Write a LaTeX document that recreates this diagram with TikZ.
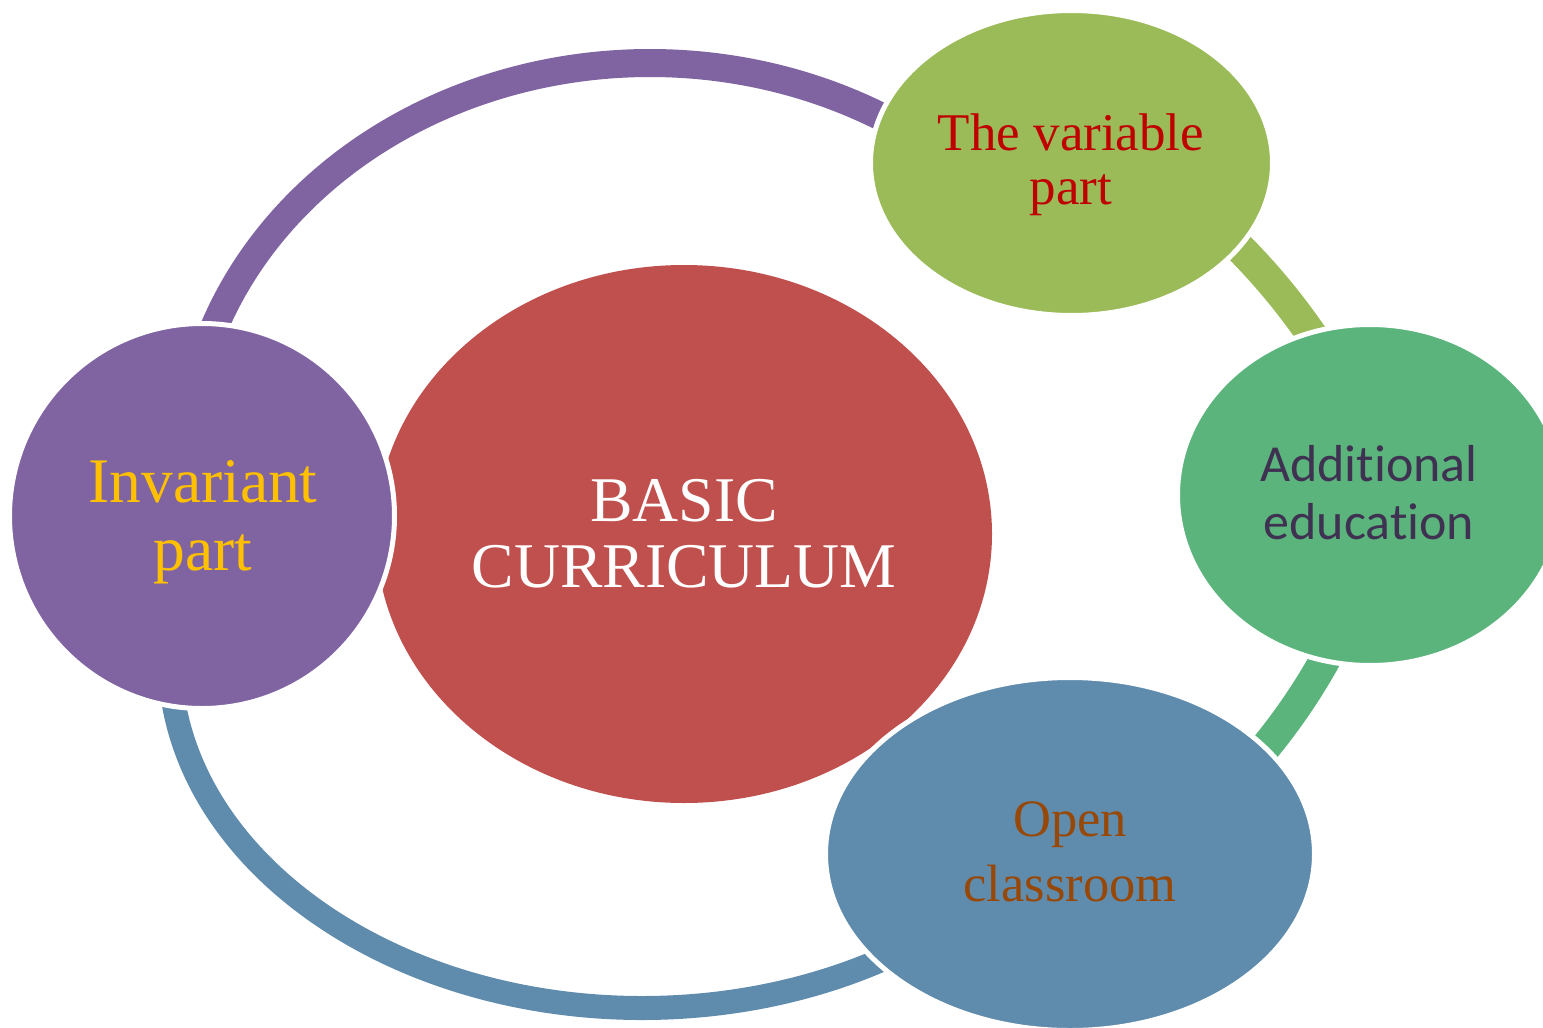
\documentclass[tikz,border=0pt]{standalone}
\usepackage{fontspec}
\setmainfont{Liberation Serif}
\newfontfamily\calibrifont[Ligatures=NoCommon,Contextuals=NoAlternate]{Carlito}
\usetikzlibrary{shapes.geometric}
\definecolor{cred}{HTML}{C0504D}
\definecolor{cpurple}{HTML}{8064A2}
\definecolor{cgreen}{HTML}{9BBB59}
\definecolor{caddgreen}{HTML}{5CB47D}
\definecolor{cblue}{HTML}{5F8CAD}
\definecolor{tvar}{HTML}{C00000}
\definecolor{tinv}{HTML}{FFC000}
\definecolor{topen}{HTML}{984806}
\definecolor{tadd}{HTML}{3F3151}
\begin{document}
\begin{tikzpicture}[x=1pt,y=-1pt,
  sat/.style={ellipse, draw=white, line width=5pt, inner sep=0pt, outer sep=0pt},
  band/.style={line width=#1, line cap=butt, line join=round},
  lbl/.style={align=center, inner sep=0pt, outer sep=0pt}]
\useasboundingbox (0,0) rectangle (1543,1028);
\clip (0,0) rectangle (1543,1028);
% central ellipse
\node[ellipse, fill=cred, inner sep=0pt, minimum width=616pt, minimum height=538pt] (core) at (684,534) {};
% arc centres and end points
\coordinate (pc) at (650,469);
\coordinate (bc) at (642.4,657.7);
\coordinate (ga) at (1219,228);
\coordinate (gb) at (1327,358);
\coordinate (ha) at (1337,637);
\coordinate (hb) at (1247,769);
% arcs
\draw[band=28pt, cpurple] (pc) ++(197:465 and 406) arc[start angle=197, end angle=304, x radius=465, y radius=406];
\draw[band=24pt, cblue] (bc) ++(177:472.7 and 350.3) arc[start angle=177, end angle=57, x radius=472.7, y radius=350.3];
\draw[band=31pt, cgreen] (ga) .. controls (1260.3,266) and (1296.3,309.3) .. (gb);
\draw[band=31pt, caddgreen] (ha) .. controls (1313.7,683.7) and (1283.7,727.7) .. (hb);
% satellites
\node[sat, fill=cpurple, minimum width=385pt, minimum height=385pt] (inv) at (202,516) {};
\node[sat, fill=cgreen, minimum width=402pt, minimum height=305pt] (var) at (1071.5,163) {};
\node[sat, fill=caddgreen, minimum width=385pt, minimum height=341pt] (add) at (1370,495) {};
\node[sat, fill=cblue, minimum width=489pt, minimum height=353pt] (open) at (1070,854) {};
% texts
\node[lbl, text=white, font=\fontsize{63.7pt}{66pt}\selectfont] (tcore) at (684,534) {BASIC\\CURRICULUM};
\node[lbl, text=tinv, font=\fontsize{63.5pt}{68pt}\selectfont] (tinv) at (203,522) {Invariant\\part};
\node[lbl, text=tvar, font=\fontsize{53pt}{54pt}\selectfont] (tvarl) at (1071,165) {The variable\\part};
\node[lbl, text=tadd, font=\calibrifont\fontsize{52pt}{58pt}\selectfont] (taddl) at (1369,493) {Additional\\education};
\node[lbl, text=topen, font=\fontsize{52.5pt}{65pt}\selectfont] (topenl) at (1070,852) {Open\\classroom};
\end{tikzpicture}
\end{document}
